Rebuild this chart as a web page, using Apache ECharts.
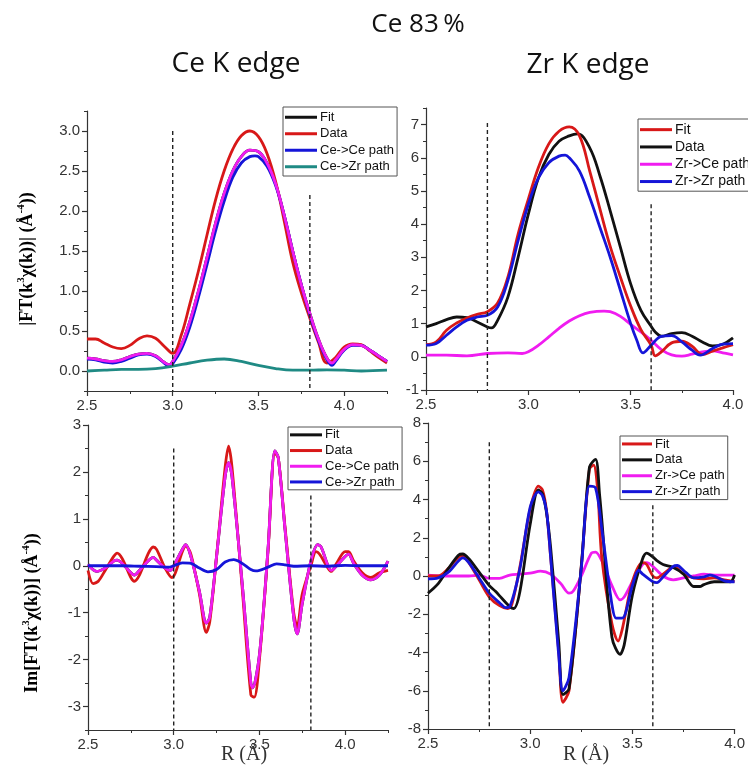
<!DOCTYPE html>
<html>
<head>
<meta charset="utf-8">
<title>Ce 83% EXAFS fits</title>
<script src="https://cdn.jsdelivr.net/npm/echarts@6/dist/echarts.min.js"></script>
<style>
  html, body { margin: 0; padding: 0; background: #fff; }
  #chart { width: 748px; height: 767px; }
</style>
</head>
<body>
<div id="chart"></div>
<script>
// ---------- Ce K edge, |FT| magnitude (R in Å, value) ----------
const ceMagData = [[2.5,0.40],[2.55,0.40],[2.6,0.35],[2.65,0.30],[2.7,0.28],[2.75,0.32],[2.8,0.40],[2.85,0.44],[2.9,0.41],[2.95,0.31],[3.0,0.22],[3.05,0.45],[3.1,0.84],[3.15,1.25],[3.2,1.7],[3.25,2.14],[3.3,2.5],[3.35,2.77],[3.4,2.94],[3.45,3.0],[3.5,2.93],[3.55,2.72],[3.6,2.37],[3.65,1.88],[3.7,1.36],[3.75,0.98],[3.8,0.66],[3.85,0.36],[3.9,0.1],[3.95,0.17],[4.0,0.3],[4.05,0.34],[4.1,0.33],[4.15,0.25],[4.2,0.17],[4.25,0.1]];
const ceMagFit = [[2.5,0.16],[2.55,0.15],[2.6,0.13],[2.65,0.12],[2.7,0.14],[2.75,0.18],[2.8,0.21],[2.85,0.22],[2.9,0.19],[2.95,0.11],[2.98,0.08],[3.0,0.12],[3.05,0.32],[3.1,0.62],[3.15,1.0],[3.2,1.42],[3.25,1.85],[3.3,2.22],[3.35,2.5],[3.4,2.68],[3.45,2.76],[3.5,2.74],[3.55,2.6],[3.6,2.34],[3.65,1.95],[3.7,1.5],[3.75,1.08],[3.8,0.72],[3.85,0.4],[3.9,0.16],[3.93,0.1],[3.95,0.14],[4.0,0.27],[4.05,0.33],[4.1,0.32],[4.15,0.26],[4.2,0.19],[4.25,0.12]];
const ceMagCeCe = [[2.5,0.15],[2.55,0.14],[2.6,0.11],[2.65,0.1],[2.7,0.12],[2.75,0.16],[2.8,0.2],[2.85,0.21],[2.9,0.18],[2.95,0.1],[2.98,0.06],[3.0,0.09],[3.05,0.27],[3.1,0.55],[3.15,0.92],[3.2,1.33],[3.25,1.75],[3.3,2.12],[3.35,2.42],[3.4,2.6],[3.45,2.68],[3.48,2.69],[3.5,2.68],[3.55,2.56],[3.6,2.32],[3.65,1.95],[3.7,1.5],[3.75,1.08],[3.8,0.7],[3.85,0.38],[3.9,0.14],[3.93,0.07],[3.95,0.12],[4.0,0.26],[4.05,0.32],[4.1,0.32],[4.15,0.26],[4.2,0.19],[4.25,0.12]];
const ceMagCeZr = [[2.5,0.0],[2.6,0.01],[2.7,0.02],[2.8,0.02],[2.9,0.03],[3.0,0.06],[3.1,0.1],[3.2,0.135],[3.3,0.15],[3.4,0.12],[3.5,0.07],[3.6,0.03],[3.7,0.01],[3.8,0.01],[3.9,0.015],[4.0,0.01],[4.1,0.0],[4.25,0.01]];
const ceMagWindow = [[[3.0,3.0],[3.0,-0.25]], [[3.8,2.2],[3.8,-0.25]]];

// ---------- Zr K edge, |FT| magnitude ----------
const zrMagFit = [[2.5,0.37],[2.55,0.45],[2.6,0.8],[2.65,1.02],[2.7,1.17],[2.75,1.28],[2.8,1.36],[2.85,1.62],[2.9,2.4],[2.95,3.7],[3.0,4.75],[3.05,5.72],[3.1,6.42],[3.15,6.8],[3.2,6.93],[3.25,6.66],[3.3,5.6],[3.35,4.45],[3.4,3.33],[3.45,2.4],[3.5,1.53],[3.55,0.82],[3.6,0.35],[3.62,0.03],[3.65,0.15],[3.7,0.42],[3.75,0.47],[3.8,0.32],[3.85,0.07],[3.9,0.17],[3.95,0.27],[4.0,0.37]];
const zrMagData = [[2.5,0.9],[2.55,1.0],[2.6,1.12],[2.65,1.2],[2.7,1.18],[2.75,1.05],[2.8,0.9],[2.82,0.87],[2.85,1.1],[2.9,1.8],[2.95,3.0],[3.0,4.3],[3.05,5.4],[3.1,6.1],[3.15,6.5],[3.2,6.66],[3.24,6.72],[3.3,6.3],[3.35,5.45],[3.4,4.4],[3.45,3.3],[3.5,2.2],[3.55,1.4],[3.6,0.92],[3.62,0.75],[3.65,0.62],[3.7,0.7],[3.75,0.73],[3.8,0.62],[3.85,0.45],[3.9,0.33],[3.95,0.38],[4.0,0.57]];
const zrMagZrCe = [[2.5,0.05],[2.6,0.05],[2.7,0.03],[2.8,0.1],[2.9,0.12],[2.97,0.1],[3.0,0.15],[3.05,0.35],[3.1,0.6],[3.15,0.86],[3.2,1.08],[3.25,1.24],[3.3,1.34],[3.37,1.38],[3.4,1.36],[3.45,1.22],[3.5,0.98],[3.55,0.75],[3.6,0.5],[3.65,0.22],[3.7,0.06],[3.75,0.02],[3.8,0.08],[3.85,0.15],[3.9,0.18],[3.95,0.12],[4.0,0.06]];
const zrMagZrZr = [[2.5,0.35],[2.55,0.4],[2.6,0.65],[2.65,0.9],[2.7,1.1],[2.75,1.2],[2.8,1.25],[2.85,1.5],[2.9,2.3],[2.95,3.5],[3.0,4.6],[3.05,5.4],[3.1,5.85],[3.15,6.05],[3.18,6.08],[3.2,6.0],[3.25,5.6],[3.3,4.8],[3.35,3.9],[3.4,3.0],[3.45,2.0],[3.5,1.0],[3.53,0.5],[3.56,0.12],[3.6,0.35],[3.65,0.62],[3.7,0.64],[3.75,0.45],[3.8,0.2],[3.84,0.05],[3.9,0.25],[3.95,0.38],[4.0,0.4]];
const zrMagWindow = [[[2.8,7.05],[2.8,-1]], [[3.6,4.6],[3.6,-1]]];

// ---------- Ce K edge, Im[FT] ----------
const ceImData = [[2.5,-0.1],[2.53,-0.38],[2.56,-0.33],[2.6,-0.1],[2.65,0.2],[2.67,0.27],[2.7,0.15],[2.75,-0.25],[2.77,-0.33],[2.8,-0.2],[2.85,0.25],[2.88,0.4],[2.9,0.35],[2.95,-0.05],[2.99,-0.25],[3.01,-0.15],[3.05,0.3],[3.07,0.42],[3.1,0.25],[3.15,-0.6],[3.19,-1.42],[3.21,-1.2],[3.25,0.2],[3.3,2.1],[3.32,2.55],[3.34,2.1],[3.4,-0.5],[3.45,-2.75],[3.47,-2.8],[3.5,-2.0],[3.55,0.3],[3.59,2.4],[3.61,2.3],[3.65,0.8],[3.7,-1.0],[3.72,-1.3],[3.75,-0.6],[3.8,0.0],[3.83,0.3],[3.85,0.25],[3.9,-0.05],[3.92,-0.12],[3.95,0.05],[4.0,0.3],[4.02,0.3],[4.05,0.1],[4.1,-0.15],[4.15,-0.25],[4.2,-0.15],[4.25,-0.1]];
const ceImCeCe = [[2.5,0.03],[2.55,-0.12],[2.6,-0.05],[2.65,0.1],[2.67,0.12],[2.7,0.05],[2.75,-0.15],[2.77,-0.2],[2.8,-0.1],[2.85,0.1],[2.88,0.18],[2.9,0.12],[2.95,-0.05],[2.98,-0.1],[3.0,0.0],[3.05,0.35],[3.07,0.45],[3.1,0.2],[3.15,-0.55],[3.19,-1.22],[3.21,-1.1],[3.25,0.2],[3.3,1.9],[3.32,2.2],[3.34,1.9],[3.4,-0.4],[3.45,-2.5],[3.46,-2.6],[3.5,-1.9],[3.55,0.35],[3.59,2.45],[3.61,2.3],[3.65,0.75],[3.7,-1.1],[3.72,-1.45],[3.75,-0.8],[3.8,0.1],[3.84,0.45],[3.86,0.4],[3.9,0.0],[3.92,-0.1],[3.95,0.0],[4.0,0.2],[4.02,0.25],[4.05,0.05],[4.1,-0.2],[4.15,-0.3],[4.2,-0.2],[4.25,0.1]];
const ceImCeZr = [[2.5,0.0],[2.6,0.0],[2.7,0.0],[2.8,-0.01],[2.9,-0.02],[2.97,-0.03],[3.0,0.0],[3.05,0.06],[3.1,0.05],[3.15,-0.05],[3.2,-0.13],[3.25,-0.08],[3.3,0.08],[3.35,0.13],[3.4,0.05],[3.45,-0.08],[3.48,-0.11],[3.55,-0.03],[3.6,0.04],[3.65,0.02],[3.7,-0.01],[3.8,0.0],[3.9,-0.01],[4.0,0.01],[4.1,0.0],[4.25,0.0]];
const ceImWindow = [[[3.0,2.5],[3.0,-3.5]], [[3.8,1.5],[3.8,-3.5]]];

// ---------- Zr K edge, Im[FT] ----------
const zrImFit = [[2.5,0.0],[2.55,0.0],[2.6,0.4],[2.65,1.0],[2.67,1.05],[2.7,0.7],[2.75,-0.2],[2.8,-1.1],[2.85,-1.55],[2.89,-1.7],[2.91,-1.5],[2.95,0.5],[3.0,3.5],[3.04,4.7],[3.06,4.5],[3.08,3.4],[3.1,1.0],[3.14,-4.0],[3.16,-6.6],[3.19,-6.0],[3.25,0.5],[3.29,5.6],[3.31,5.8],[3.33,4.5],[3.35,1.0],[3.4,-2.5],[3.43,-3.4],[3.45,-2.8],[3.5,-0.3],[3.55,0.7],[3.57,0.6],[3.6,0.0],[3.62,-0.1],[3.65,0.1],[3.7,0.45],[3.72,0.4],[3.75,0.1],[3.8,-0.1],[3.85,-0.15],[3.9,-0.1],[3.95,-0.2],[4.0,-0.3]];
const zrImData = [[2.5,-0.9],[2.55,-0.4],[2.6,0.4],[2.65,1.1],[2.67,1.15],[2.7,0.9],[2.75,0.2],[2.8,-0.5],[2.83,-0.8],[2.86,-1.15],[2.9,-1.6],[2.92,-1.7],[2.95,-0.8],[3.0,2.7],[3.04,4.5],[3.06,4.3],[3.08,3.3],[3.1,1.5],[3.14,-3.5],[3.16,-6.2],[3.19,-5.9],[3.25,0.5],[3.29,5.7],[3.32,6.1],[3.34,4.2],[3.35,3.0],[3.4,-3.2],[3.44,-4.1],[3.46,-3.6],[3.5,-1.0],[3.55,0.9],[3.57,1.2],[3.6,1.0],[3.62,0.8],[3.65,0.6],[3.7,0.45],[3.75,0.1],[3.8,-0.55],[3.83,-0.55],[3.85,-0.45],[3.9,-0.3],[3.95,-0.3],[3.98,-0.3],[4.0,0.05]];
const zrImZrCe = [[2.5,0.05],[2.6,0.0],[2.7,0.0],[2.75,0.05],[2.8,-0.12],[2.85,-0.12],[2.9,0.05],[2.95,0.1],[3.0,0.15],[3.05,0.25],[3.1,0.1],[3.15,-0.4],[3.19,-0.9],[3.21,-0.8],[3.25,0.0],[3.3,1.2],[3.32,1.25],[3.35,0.8],[3.4,-0.5],[3.44,-1.25],[3.46,-1.1],[3.5,-0.3],[3.55,0.6],[3.57,0.7],[3.6,0.5],[3.65,0.0],[3.7,-0.2],[3.75,-0.1],[3.8,0.0],[3.85,0.1],[3.9,0.05],[3.95,0.05],[4.0,0.05]];
const zrImZrZr = [[2.5,-0.15],[2.55,-0.1],[2.6,0.2],[2.65,0.8],[2.67,0.95],[2.7,0.7],[2.75,-0.1],[2.8,-0.9],[2.85,-1.4],[2.88,-1.65],[2.9,-1.6],[2.95,0.4],[3.0,3.6],[3.04,4.4],[3.06,4.2],[3.08,3.4],[3.1,1.0],[3.14,-4.2],[3.16,-6.0],[3.19,-5.3],[3.25,0.4],[3.29,4.7],[3.32,4.6],[3.35,2.5],[3.4,-1.5],[3.42,-2.2],[3.45,-2.2],[3.5,-0.5],[3.53,0.3],[3.55,0.1],[3.6,-0.3],[3.62,-0.35],[3.65,-0.05],[3.7,0.5],[3.72,0.55],[3.75,0.3],[3.8,-0.1],[3.85,-0.05],[3.88,0.05],[3.9,0.0],[3.95,-0.25],[4.0,-0.3]];
const zrImWindow = [[[2.8,7.0],[2.8,-8]], [[3.6,3.7],[3.6,-8]]];

// ---------- tick values ----------
const rTicksCe = [2.5, 3.0, 3.5, 4.0];
const rMinorCe = [2.75, 3.25, 3.75, 4.25];
const rTicksZr = [2.5, 3.0, 3.5, 4.0];
const rMinorZr = [2.75, 3.25, 3.75];
const ceMagTicks = [0, 0.5, 1.0, 1.5, 2.0, 2.5, 3.0];
const ceMagMinor = [-0.25, 0.25, 0.75, 1.25, 1.75, 2.25, 2.75, 3.25];
const zrMagTicks = [-1, 0, 1, 2, 3, 4, 5, 6, 7];
const zrMagMinor = [-0.5, 0.5, 1.5, 2.5, 3.5, 4.5, 5.5, 6.5, 7.5];
const ceImTicks = [-3, -2, -1, 0, 1, 2, 3];
const ceImMinor = [-3.5, -2.5, -1.5, -0.5, 0.5, 1.5, 2.5];
const zrImTicks = [-8, -6, -4, -2, 0, 2, 4, 6, 8];
const zrImMinor = [-7, -5, -3, -1, 1, 3, 5, 7];

const C = {
  black: '#111111',
  red: '#d81818',
  blue: '#1515d8',
  magenta: '#f01cf0',
  teal: '#1f8a84'
};

const SANS = '"Liberation Sans", Arial, sans-serif';
const SERIF = '"Liberation Serif", "Times New Roman", serif';

const grids = [
  { left: 87, top: 111, width: 300, height: 280 },
  { left: 426, top: 108, width: 307, height: 282 },
  { left: 88, top: 425, width: 300, height: 305 },
  { left: 428, top: 423, width: 309, height: 306 }
];

const fmt1 = v => v.toFixed(1);
const fmt0 = v => String(Math.round(v));

function axisPair(dim, gridIndex, min, max, majors, minors, fmt) {
  const major = {
    type: 'value', gridIndex, min, max,
    position: dim === 'x' ? 'bottom' : 'left',
    axisLine: { show: true, onZero: false, lineStyle: { color: '#333', width: 1.2 } },
    axisTick: { show: true, customValues: majors, length: 5, lineStyle: { color: '#333', width: 1.2 } },
    axisLabel: { show: true, customValues: majors, formatter: fmt, fontFamily: SANS, fontSize: 15, color: '#333', margin: 7 },
    splitLine: { show: false }
  };
  const minor = {
    type: 'value', gridIndex, min, max,
    position: dim === 'x' ? 'bottom' : 'left',
    axisLine: { show: false, onZero: false },
    axisTick: { show: true, customValues: minors, length: 3, lineStyle: { color: '#333', width: 1 } },
    axisLabel: { show: false },
    splitLine: { show: false }
  };
  return [major, minor];
}

const xAxes = [
  ...axisPair('x', 0, 2.5, 4.25, rTicksCe, rMinorCe, fmt1),
  ...axisPair('x', 1, 2.5, 4.0, rTicksZr, rMinorZr, fmt1),
  ...axisPair('x', 2, 2.5, 4.25, rTicksCe, rMinorCe, fmt1),
  ...axisPair('x', 3, 2.5, 4.0, rTicksZr, rMinorZr, fmt1)
];
const yAxes = [
  ...axisPair('y', 0, -0.25, 3.25, ceMagTicks, ceMagMinor, fmt1),
  ...axisPair('y', 1, -1, 7.5, zrMagTicks, zrMagMinor, fmt0),
  ...axisPair('y', 2, -3.5, 3, ceImTicks, ceImMinor, fmt0),
  ...axisPair('y', 3, -8, 8, zrImTicks, zrImMinor, fmt0)
];

function curve(panel, name, data, color, smooth) {
  return {
    type: 'line', name, data, color,
    xAxisIndex: panel * 2, yAxisIndex: panel * 2,
    showSymbol: false, smooth: smooth,
    lineStyle: { width: 2.8, color },
    emphasis: { disabled: true },
    silent: true
  };
}
function windowLines(panel, pairs) {
  return pairs.map(seg => ({
    type: 'line', data: seg,
    xAxisIndex: panel * 2, yAxisIndex: panel * 2,
    showSymbol: false, silent: true,
    lineStyle: { type: [4, 3], width: 1.4, color: '#222' },
    emphasis: { disabled: true }
  }));
}

const series = [
  // Ce K edge |FT|
  curve(0, 'Fit|ceMag', ceMagFit, C.black, 0.4),
  curve(0, 'Data|ceMag', ceMagData, C.red, 0.4),
  curve(0, 'Ce->Ce path|ceMag', ceMagCeCe, C.blue, 0.4),
  curve(0, '', ceMagFit, C.magenta, 0.4),
  curve(0, 'Ce->Zr path|ceMag', ceMagCeZr, C.teal, 0.4),
  ...windowLines(0, ceMagWindow),
  // Zr K edge |FT|
  curve(1, 'Zr->Ce path|zrMag', zrMagZrCe, C.magenta, 0.4),
  curve(1, 'Data|zrMag', zrMagData, C.black, 0.4),
  curve(1, 'Fit|zrMag', zrMagFit, C.red, 0.4),
  curve(1, 'Zr->Zr path|zrMag', zrMagZrZr, C.blue, 0.4),
  ...windowLines(1, zrMagWindow),
  // Ce K edge Im
  curve(2, 'Fit|ceIm', ceImCeCe, C.black, 0.3),
  curve(2, 'Data|ceIm', ceImData, C.red, 0.3),
  curve(2, 'Ce->Ce path|ceIm', ceImCeCe, C.magenta, 0.3),
  curve(2, 'Ce->Zr path|ceIm', ceImCeZr, C.blue, 0.3),
  ...windowLines(2, ceImWindow),
  // Zr K edge Im
  curve(3, 'Zr->Ce path|zrIm', zrImZrCe, C.magenta, 0.3),
  curve(3, 'Fit|zrIm', zrImFit, C.red, 0.3),
  curve(3, 'Data|zrIm', zrImData, C.black, 0.3),
  curve(3, 'Zr->Zr path|zrIm', zrImZrZr, C.blue, 0.3),
  ...windowLines(3, zrImWindow)
];

function legendBox(names, left, top, fontSize, itemWidth, rowH, pad) {
  return {
    orient: 'vertical', left, top,
    data: names, selectedMode: false,
    formatter: n => n.split('|')[0],
    icon: 'rect', itemWidth, itemHeight: 3, itemGap: 0,
    padding: pad,
    borderColor: '#555', borderWidth: 1, backgroundColor: '#fff',
    textStyle: { fontFamily: SANS, fontSize, color: '#111', lineHeight: rowH, padding: [0, 0, 0, -2] }
  };
}

const legends = [
  legendBox(['Fit|ceMag', 'Data|ceMag', 'Ce->Ce path|ceMag', 'Ce->Zr path|ceMag'], 283, 107, 13, 32, 16.5, [2, 3, 1, 2]),
  legendBox(['Fit|zrMag', 'Data|zrMag', 'Zr->Ce path|zrMag', 'Zr->Zr path|zrMag'], 638, 119, 14, 32, 17.3, [2, 3, 1, 2]),
  legendBox(['Fit|ceIm', 'Data|ceIm', 'Ce->Ce path|ceIm', 'Ce->Zr path|ceIm'], 288, 427, 13, 32, 15.7, [0, 3, 0, 2]),
  legendBox(['Fit|zrIm', 'Data|zrIm', 'Zr->Ce path|zrIm', 'Zr->Zr path|zrIm'], 620, 436, 13, 30, 15.9, [0, 3, 0, 2])
];

const richY = {
  b: { fontFamily: SERIF, fontWeight: 'bold', fontSize: 18, lineHeight: 22, color: '#222' },
  s: { fontFamily: SERIF, fontWeight: 'bold', fontSize: 11, lineHeight: 12, verticalAlign: 'top', color: '#222' }
};

const graphics = [
  { type: 'text', x: 418, y: 25, style: { text: 'Ce 83\u2009%', font: '26px "Open Sans", sans-serif', fill: '#111', align: 'center', verticalAlign: 'middle' } },
  { type: 'text', x: 236, y: 64, style: { text: 'Ce K edge', font: '28px "Open Sans", sans-serif', fill: '#111', align: 'center', verticalAlign: 'middle' } },
  { type: 'text', x: 588, y: 65, style: { text: 'Zr K edge', font: '28px "Open Sans", sans-serif', fill: '#111', align: 'center', verticalAlign: 'middle' } },
  { type: 'text', x: 27, y: 259, rotation: Math.PI / 2, style: { text: '{b||FT(k}{s|3}{b|χ(k))| (Å}{s|-4}{b|))}', rich: richY, align: 'center', verticalAlign: 'middle' } },
  { type: 'text', x: 32, y: 613, rotation: Math.PI / 2, style: { text: '{b|Im[FT(k}{s|3}{b|χ(k))] (Å}{s|-4}{b|))}', rich: richY, align: 'center', verticalAlign: 'middle' } },
  { type: 'text', x: 244, y: 755, style: { text: 'R (Å)', font: '20px "Liberation Serif", serif', fill: '#333', align: 'center', verticalAlign: 'middle' } },
  { type: 'text', x: 586, y: 755, style: { text: 'R (Å)', font: '20px "Liberation Serif", serif', fill: '#333', align: 'center', verticalAlign: 'middle' } }
];

const chart = echarts.init(document.getElementById('chart'), null, { renderer: 'canvas' });
chart.setOption({
  animation: false,
  backgroundColor: '#fff',
  grid: grids,
  xAxis: xAxes,
  yAxis: yAxes,
  legend: legends,
  series,
  graphic: graphics
});
</script>
</body>
</html>
